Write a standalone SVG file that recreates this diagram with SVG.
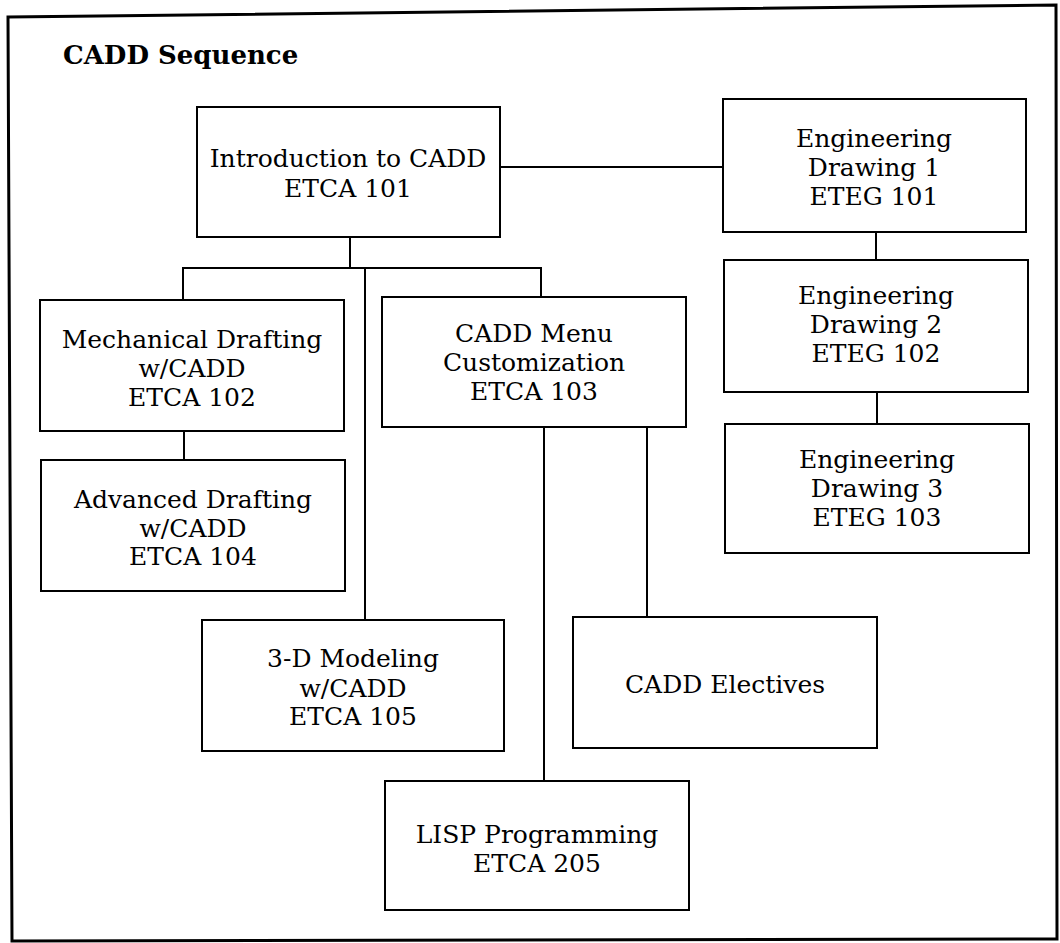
<svg xmlns="http://www.w3.org/2000/svg" width="1060" height="943" viewBox="0 0 1060 943">
<style>
.frame{fill:none;stroke:#000;stroke-width:3}
.box{fill:#fff;stroke:#000;stroke-width:2}
.conn line{stroke:#000;stroke-width:2}
.t{font-family:"DejaVu Serif","Liberation Serif",serif;font-size:25px;fill:#000;text-anchor:middle}
.title{font-family:"DejaVu Serif","Liberation Serif",serif;font-size:26px;font-weight:bold;fill:#000}
</style>
<rect width="1060" height="943" fill="#fff"/>
<polygon class="frame" points="8,17 1056,5 1057,939 12,941"/>
<text class="title" x="63" y="64">CADD Sequence</text>
<g class="conn" id="connectors">
<line x1="500" y1="167" x2="723" y2="167"/>
<line x1="350" y1="237" x2="350" y2="268"/>
<line x1="182" y1="268" x2="542" y2="268"/>
<line x1="183" y1="268" x2="183" y2="300"/>
<line x1="365" y1="268" x2="365" y2="620"/>
<line x1="541" y1="268" x2="541" y2="297"/>
<line x1="184" y1="431" x2="184" y2="460"/>
<line x1="544" y1="427" x2="544" y2="781"/>
<line x1="647" y1="427" x2="647" y2="617"/>
<line x1="876" y1="232" x2="876" y2="260"/>
<line x1="877" y1="392" x2="877" y2="424"/>
</g>
<g id="intro"><rect class="box" x="197" y="107" width="303" height="130"/>
<text class="t" x="348" y="167">Introduction to CADD</text><text class="t" x="348" y="197">ETCA 101</text></g>
<g id="eng1"><rect class="box" x="723" y="99" width="303" height="133"/>
<text class="t" x="874" y="147">Engineering</text><text class="t" x="874" y="176">Drawing 1</text><text class="t" x="874" y="205">ETEG 101</text></g>
<g id="eng2"><rect class="box" x="724" y="260" width="304" height="132"/>
<text class="t" x="876" y="304">Engineering</text><text class="t" x="876" y="333">Drawing 2</text><text class="t" x="876" y="362">ETEG 102</text></g>
<g id="eng3"><rect class="box" x="725" y="424" width="304" height="129"/>
<text class="t" x="877" y="468">Engineering</text><text class="t" x="877" y="497">Drawing 3</text><text class="t" x="877" y="526">ETEG 103</text></g>
<g id="mech"><rect class="box" x="40" y="300" width="304" height="131"/>
<text class="t" x="192" y="348">Mechanical Drafting</text><text class="t" x="192" y="377">w/CADD</text><text class="t" x="192" y="406">ETCA 102</text></g>
<g id="adv"><rect class="box" x="41" y="460" width="304" height="131"/>
<text class="t" x="193" y="508">Advanced Drafting</text><text class="t" x="193" y="537">w/CADD</text><text class="t" x="193" y="565">ETCA 104</text></g>
<g id="menu"><rect class="box" x="382" y="297" width="304" height="130"/>
<text class="t" x="534" y="342">CADD Menu</text><text class="t" x="534" y="371">Customization</text><text class="t" x="534" y="400">ETCA 103</text></g>
<g id="modeling"><rect class="box" x="202" y="620" width="302" height="131"/>
<text class="t" x="353" y="667">3-D Modeling</text><text class="t" x="353" y="697">w/CADD</text><text class="t" x="353" y="725">ETCA 105</text></g>
<g id="lisp"><rect class="box" x="385" y="781" width="304" height="129"/>
<text class="t" x="537" y="843">LISP Programming</text><text class="t" x="537" y="872">ETCA 205</text></g>
<g id="electives"><rect class="box" x="573" y="617" width="304" height="131"/>
<text class="t" x="725" y="693">CADD Electives</text></g>
</svg>
